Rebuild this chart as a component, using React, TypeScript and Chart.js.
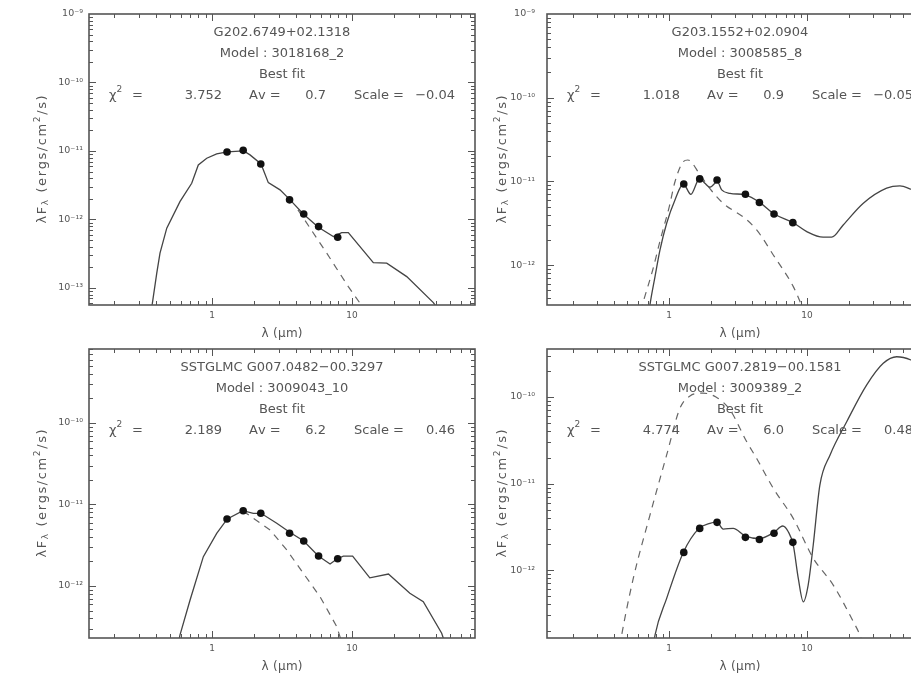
import React, { useEffect, useRef } from 'react';
import { Chart, registerables } from 'chart.js';

Chart.register(...registerables);

const FONT = '"DejaVu Sans", sans-serif';
const TEXT_COLOR = '#555';
const AXIS_COLOR = '#555';
const FIT_COLOR = '#444';
const STAR_COLOR = '#666';
const OBS_COLOR = '#111';

// Photometric band wavelengths (micron): J, H, K, IRAC 3.6, 4.5, 5.8, 8.0
const BAND_WAVELENGTHS = [1.28, 1.67, 2.23, 3.58, 4.52, 5.77, 7.9];
const X_TICK_VALUES = [1, 10];

// ---------- Panel 1 (top-left) ----------
const P1_NAME = 'G202.6749+02.1318';
const P1_MODEL = 'Model : 3018168_2';
const P1_STATS = ['3.752', '0.7', '−0.04'];
const P1_Y_DECADES = [-13, -12, -11, -10, -9];
const P1_OBS = [9.67e-12, 1.02e-11, 6.46e-12, 1.93e-12, 1.2e-12, 7.85e-13, 5.5e-13];
const P1_FIT_X = [0.367, 0.375, 0.403, 0.425, 0.475, 0.59, 0.716, 0.798, 0.917, 1.08, 1.285, 1.683, 1.868, 2.239, 2.524, 3.06, 3.61, 4.49, 5.75, 7.35, 8.44, 9.41, 14.2, 17.7, 24.6, 38.1, 42.4];
const P1_FIT_Y = [4.8e-14, 5.98e-14, 1.64e-13, 3.21e-13, 7.44e-13, 1.82e-12, 3.37e-12, 6.25e-12, 7.82e-12, 9.04e-12, 9.67e-12, 1.0e-11, 8.75e-12, 6.46e-12, 3.44e-12, 2.7e-12, 1.93e-12, 1.2e-12, 7.69e-13, 5.61e-13, 6.41e-13, 6.41e-13, 2.34e-13, 2.3e-13, 1.46e-13, 6.1e-14, 4.47e-14];
const P1_STAR_X = [4.11, 6.6, 9.41, 11.4, 12.0];
const P1_STAR_Y = [1.38e-12, 3.21e-13, 1.04e-13, 5.98e-14, 4.8e-14];

// ---------- Panel 2 (top-right) ----------
const P2_NAME = 'G203.1552+02.0904';
const P2_MODEL = 'Model : 3008585_8';
const P2_STATS = ['1.018', '0.9', '−0.05'];
const P2_Y_DECADES = [-12, -11, -10, -9];
const P2_OBS = [9.3e-12, 1.07e-11, 1.04e-11, 7.0e-12, 5.6e-12, 4.07e-12, 3.21e-12];
const P2_FIT_X = [0.70, 0.728, 0.792, 0.86, 0.962, 1.105, 1.27, 1.44, 1.67, 1.82, 1.98, 2.24, 2.41, 2.77, 3.57, 4.56, 5.8, 7.92, 9.96, 13.1, 15.1, 18.3, 25.6, 37.8, 47.2, 56.7, 71.6];
const P2_FIT_Y = [2.0e-13, 3.34e-13, 7.27e-13, 1.51e-12, 3.16e-12, 6.0e-12, 9.3e-12, 7.0e-12, 1.09e-11, 9.5e-12, 8.5e-12, 9.9e-12, 7.9e-12, 7.2e-12, 6.88e-12, 5.57e-12, 4.07e-12, 3.21e-12, 2.51e-12, 2.15e-12, 2.15e-12, 3.01e-12, 5.47e-12, 8.28e-12, 8.81e-12, 8.05e-12, 6.9e-12];
const P2_STAR_X = [0.62, 0.651, 0.762, 0.871, 1.005, 1.105, 1.27, 1.37, 1.68, 2.0, 2.47, 3.55, 4.32, 5.7, 7.96, 8.9, 9.35];
const P2_STAR_Y = [2.8e-13, 3.66e-13, 8.73e-13, 2.09e-12, 4.99e-12, 9.9e-12, 1.72e-11, 1.8e-11, 1.2e-11, 8.0e-12, 5.47e-12, 3.62e-12, 2.63e-12, 1.32e-12, 5.52e-13, 3.66e-13, 2.9e-13];

// ---------- Panel 3 (bottom-left) ----------
const P3_NAME = 'SSTGLMC G007.0482−00.3297';
const P3_MODEL = 'Model : 3009043_10';
const P3_STATS = ['2.189', '6.2', '0.46'];
const P3_Y_DECADES = [-12, -11, -10];
const P3_OBS = [6.64e-12, 8.39e-12, 7.8e-12, 4.43e-12, 3.57e-12, 2.33e-12, 2.16e-12];
const P3_FIT_X = [0.572, 0.59, 0.697, 0.867, 1.08, 1.285, 1.665, 1.97, 2.239, 2.9, 3.59, 4.52, 5.75, 6.97, 7.85, 8.67, 10.1, 13.4, 18.2, 25.9, 32.3, 43.7, 46.2];
const P3_FIT_Y = [1.89e-13, 2.5e-13, 6.73e-13, 2.29e-12, 4.43e-12, 6.64e-12, 8.39e-12, 7.8e-12, 7.8e-12, 5.88e-12, 4.56e-12, 3.57e-12, 2.33e-12, 1.86e-12, 2.16e-12, 2.33e-12, 2.33e-12, 1.26e-12, 1.4e-12, 8.13e-13, 6.41e-13, 2.63e-13, 1.98e-13];
const P3_STAR_X = [1.665, 2.6, 3.42, 4.49, 5.91, 7.78, 8.2, 8.49];
const P3_STAR_Y = [8.3e-12, 4.87e-12, 2.77e-12, 1.43e-12, 7.39e-13, 3.17e-13, 2.39e-13, 1.89e-13];

// ---------- Panel 4 (bottom-right) ----------
const P4_NAME = 'SSTGLMC G007.2819−00.1581';
const P4_MODEL = 'Model : 3009389_2';
const P4_STATS = ['4.774', '6.0', '0.48'];
const P4_Y_DECADES = [-12, -11, -10];
const P4_OBS = [1.6e-12, 3.03e-12, 3.56e-12, 2.39e-12, 2.26e-12, 2.66e-12, 2.09e-12];
const P4_FIT_X = [0.77, 0.792, 0.962, 1.27, 1.65, 1.98, 2.22, 2.47, 2.92, 3.55, 4.54, 5.77, 6.67, 7.32, 7.95, 8.65, 9.4, 10.2, 11.1, 12.4, 14.7, 19.4, 27.1, 35.7, 44.7, 56.7, 71.6];
const P4_FIT_Y = [1.3e-13, 1.77e-13, 4.71e-13, 1.6e-12, 3.03e-12, 3.47e-12, 3.61e-12, 2.98e-12, 3.03e-12, 2.49e-12, 2.32e-12, 2.73e-12, 3.23e-12, 2.77e-12, 1.95e-12, 8.0e-13, 4.3e-13, 6.71e-13, 1.95e-12, 9.6e-12, 2.14e-11, 5.18e-11, 1.38e-10, 2.45e-10, 2.92e-10, 2.68e-10, 2.16e-10];
const P4_STAR_X = [0.44, 0.454, 0.551, 0.728, 0.962, 1.2, 1.42, 1.76, 2.19, 2.77, 3.66, 4.32, 5.7, 7.95, 11.1, 15.5, 21.7, 24.2, 25.5];
const P4_STAR_Y = [1.3e-13, 1.77e-13, 8.0e-13, 4.32e-12, 2.14e-11, 7.4e-11, 1.03e-10, 1.11e-10, 1.0e-10, 7.08e-11, 3.04e-11, 1.95e-11, 8.8e-12, 3.96e-12, 1.37e-12, 6.71e-13, 2.52e-13, 1.77e-13, 1.36e-13];

type PanelCfg = {
  left: number; top: number; axisH: number; tickPad: number; yTitleOff: number;
  xMin: number; xMax: number; yMin: number; yMax: number; decades: number[];
  name: string; model: string; stats: string[];
  obs: number[]; fitX: number[]; fitY: number[]; starX: number[]; starY: number[];
  smooth: boolean;
};

const PANELS: PanelCfg[] = [
  { left: 0, top: 0, axisH: 35, tickPad: 6, yTitleOff: 46, xMin: 0.1322, xMax: 75.6, yMin: 5.62e-14, yMax: 1e-9, decades: P1_Y_DECADES,
    name: P1_NAME, model: P1_MODEL, stats: P1_STATS, obs: P1_OBS, fitX: P1_FIT_X, fitY: P1_FIT_Y, starX: P1_STAR_X, starY: P1_STAR_Y, smooth: false },
  { left: 458, top: 0, axisH: 35, tickPad: 12, yTitleOff: 44, xMin: 0.1306, xMax: 81.9, yMin: 3.33e-13, yMax: 1e-9, decades: P2_Y_DECADES,
    name: P2_NAME, model: P2_MODEL, stats: P2_STATS, obs: P2_OBS, fitX: P2_FIT_X, fitY: P2_FIT_Y, starX: P2_STAR_X, starY: P2_STAR_Y, smooth: true },
  { left: 0, top: 335, axisH: 37, tickPad: 6, yTitleOff: 46, xMin: 0.1322, xMax: 75.6, yMin: 2.3e-13, yMax: 8.09e-10, decades: P3_Y_DECADES,
    name: P3_NAME, model: P3_MODEL, stats: P3_STATS, obs: P3_OBS, fitX: P3_FIT_X, fitY: P3_FIT_Y, starX: P3_STAR_X, starY: P3_STAR_Y, smooth: false },
  { left: 458, top: 335, axisH: 37, tickPad: 12, yTitleOff: 44, xMin: 0.1306, xMax: 81.9, yMin: 1.64e-13, yMax: 3.59e-10, decades: P4_Y_DECADES,
    name: P4_NAME, model: P4_MODEL, stats: P4_STATS, obs: P4_OBS, fitX: P4_FIT_X, fitY: P4_FIT_Y, starX: P4_STAR_X, starY: P4_STAR_Y, smooth: true },
];

const SUP = '⁰¹²³⁴⁵⁶⁷⁸⁹';
const sup = (n: number) => String(n).split('').map((c) => (c === '-' ? '⁻' : SUP[+c])).join('');

type Part = { t: string; s: number; dy?: number };

function drawRich(ctx: CanvasRenderingContext2D, parts: Part[], x: number, y: number, align: 'left' | 'center' | 'right', spacing = 0) {
  let total = 0;
  for (const p of parts) {
    ctx.font = `${p.s}px ${FONT}`;
    for (const ch of p.t) total += ctx.measureText(ch).width + spacing;
  }
  total -= spacing;
  let cx = align === 'center' ? x - total / 2 : align === 'right' ? x - total : x;
  ctx.textAlign = 'left';
  ctx.textBaseline = 'middle';
  for (const p of parts) {
    ctx.font = `${p.s}px ${FONT}`;
    for (const ch of p.t) {
      ctx.fillText(ch, cx, y + (p.dy || 0));
      cx += ctx.measureText(ch).width + spacing;
    }
  }
}

function makePlugin(cfg: PanelCfg) {
  return {
    id: 'sedDecor',
    afterDraw(chart: any) {
      const { ctx, chartArea: ca, scales } = chart;
      const xs = scales.x;
      const ys = scales.y;
      ctx.save();
      // inward ticks
      ctx.strokeStyle = AXIS_COLOR;
      ctx.lineWidth = 1;
      for (let e = -2; e <= 2; e++) {
        for (let k = 1; k <= 9; k++) {
          const v = k * Math.pow(10, e);
          if (v <= xs.min || v >= xs.max) continue;
          const p = Math.round(xs.getPixelForValue(v)) + 0.5;
          const L = k === 1 ? 7 : 4;
          ctx.beginPath();
          ctx.moveTo(p, ca.bottom); ctx.lineTo(p, ca.bottom - L);
          ctx.moveTo(p, ca.top); ctx.lineTo(p, ca.top + L);
          ctx.stroke();
        }
      }
      for (let e = -15; e <= -8; e++) {
        for (let k = 1; k <= 9; k++) {
          const v = k * Math.pow(10, e);
          if (v <= ys.min || v >= ys.max) continue;
          const p = Math.round(ys.getPixelForValue(v)) + 0.5;
          const L = k === 1 ? 7 : 4;
          ctx.beginPath();
          ctx.moveTo(ca.left, p); ctx.lineTo(ca.left + L, p);
          ctx.moveTo(ca.right, p); ctx.lineTo(ca.right - L, p);
          ctx.stroke();
        }
      }
      // frame
      ctx.lineWidth = 1.6;
      ctx.strokeRect(ca.left, ca.top, ca.right - ca.left, ca.bottom - ca.top);

      ctx.fillStyle = TEXT_COLOR;
      // tick labels, placed through the scales
      for (const v of X_TICK_VALUES) {
        drawRich(ctx, [{ t: String(v), s: 9 }], xs.getPixelForValue(v), ca.bottom + 11, 'center');
      }
      for (const d of cfg.decades) {
        const py = ys.getPixelForValue(Math.pow(10, d));
        drawRich(ctx, [{ t: '10' + sup(d), s: 9.5 }], ca.left - cfg.tickPad, py, 'right');
      }

      // annotation texts
      const cx = (ca.left + ca.right) / 2;
      drawRich(ctx, [{ t: cfg.name, s: 13 }], cx, ca.top + 18.5, 'center');
      drawRich(ctx, [{ t: cfg.model, s: 13 }], cx, ca.top + 39.5, 'center');
      drawRich(ctx, [{ t: 'Best fit', s: 13 }], cx, ca.top + 61, 'center');
      const ry = ca.top + 82;
      drawRich(ctx, [{ t: 'χ', s: 13 }, { t: '2', s: 9, dy: -6 }], ca.left + 20, ry, 'left');
      drawRich(ctx, [{ t: '=', s: 13 }], ca.left + 43, ry, 'left');
      drawRich(ctx, [{ t: cfg.stats[0], s: 13 }], ca.left + 133, ry, 'right');
      drawRich(ctx, [{ t: 'Av =', s: 13 }], ca.left + 160, ry, 'left');
      drawRich(ctx, [{ t: cfg.stats[1], s: 13 }], ca.left + 237, ry, 'right');
      drawRich(ctx, [{ t: 'Scale =', s: 13 }], ca.left + 265, ry, 'left');
      drawRich(ctx, [{ t: cfg.stats[2], s: 13 }], ca.left + 366, ry, 'right');

      // x title
      drawRich(ctx, [{ t: 'λ (μm)', s: 12 }], cx, ca.bottom + 29, 'center', 0.3);

      // y title (rotated)
      ctx.save();
      ctx.translate(ca.left - cfg.yTitleOff, (ca.top + ca.bottom) / 2);
      ctx.rotate(-Math.PI / 2);
      drawRich(ctx, [
        { t: 'λF', s: 13 },
        { t: 'λ', s: 9, dy: 3 },
        { t: ' (ergs/cm', s: 13 },
        { t: '2', s: 9, dy: -5 },
        { t: '/s)', s: 13 },
      ], 0, 0, 'center', 1.6);
      ctx.restore();
      ctx.restore();
    },
  };
}

function buildConfig(cfg: PanelCfg): any {
  const fitData = cfg.fitX.map((x, i) => ({ x, y: cfg.fitY[i] }));
  const starData = cfg.starX.map((x, i) => ({ x, y: cfg.starY[i] }));
  const obsData = BAND_WAVELENGTHS.map((x, i) => ({ x, y: cfg.obs[i] }));
  const interp = cfg.smooth ? 'monotone' : 'default';
  return {
    type: 'scatter',
    data: {
      datasets: [
        { data: obsData, showLine: false, pointRadius: 3.8, pointBackgroundColor: OBS_COLOR, pointBorderColor: OBS_COLOR, pointBorderWidth: 0 },
        { data: fitData, showLine: true, pointRadius: 0, borderColor: FIT_COLOR, borderWidth: 1.3, tension: 0, cubicInterpolationMode: interp, fill: false },
        { data: starData, showLine: true, pointRadius: 0, borderColor: STAR_COLOR, borderWidth: 1.2, borderDash: [7, 6], tension: 0, cubicInterpolationMode: interp, fill: false },
      ],
    },
    options: {
      responsive: false,
      animation: false,
      devicePixelRatio: 1,
      events: [],
      layout: { padding: { left: 0, top: 14, right: 5, bottom: 0 } },
      plugins: { legend: { display: false }, tooltip: { enabled: false }, title: { display: false } },
      scales: {
        x: {
          type: 'logarithmic',
          min: cfg.xMin,
          max: cfg.xMax,
          bounds: 'data',
          grid: { display: false, drawTicks: false },
          border: { display: false },
          ticks: { display: false },
          afterFit: (s: any) => { s.height = cfg.axisH; },
        },
        y: {
          type: 'logarithmic',
          min: cfg.yMin,
          max: cfg.yMax,
          bounds: 'data',
          grid: { display: false, drawTicks: false },
          border: { display: false },
          ticks: { display: false },
          afterFit: (s: any) => { s.width = 89; },
        },
      },
    },
    plugins: [makePlugin(cfg)],
  };
}

function Panel({ cfg }: { cfg: PanelCfg }) {
  const ref = useRef<HTMLCanvasElement>(null);
  useEffect(() => {
    const chart = new Chart(ref.current as HTMLCanvasElement, buildConfig(cfg));
    return () => chart.destroy();
  }, [cfg]);
  return (
    <canvas
      ref={ref}
      width={480}
      height={340}
      style={{ position: 'absolute', left: cfg.left, top: cfg.top, width: 480, height: 340 }}
    />
  );
}

export default function App() {
  return (
    <div style={{ position: 'fixed', left: 0, top: 0, width: 911, height: 675, overflow: 'hidden', background: '#fff' }}>
      {PANELS.map((p, i) => (
        <Panel key={i} cfg={p} />
      ))}
    </div>
  );
}
